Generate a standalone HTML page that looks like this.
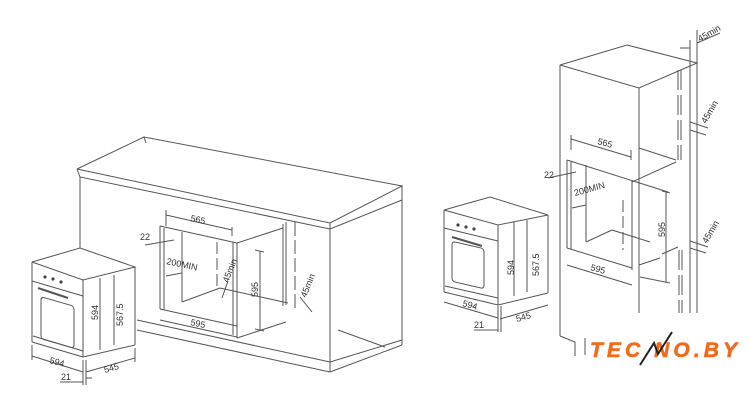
<!DOCTYPE html>
<html><head><meta charset="utf-8"><style>
html,body{margin:0;padding:0;background:#fff;}
svg{display:block}
text{font-family:"Liberation Sans",sans-serif;fill:#333;font-size:9px}
</style></head><body>
<svg width="749" height="412" viewBox="0 0 749 412" xmlns="http://www.w3.org/2000/svg">
<g stroke="#555" stroke-width="1" fill="none">
<!-- LEFT CABINET -->
<polyline points="77,169 144,137 402,186 330,223 77,169"/>
<polyline points="77,169 80,177 330,229 402,200 402,186"/>
<line x1="330" y1="223" x2="330" y2="229"/>
<line x1="144" y1="137" x2="146" y2="143"/>
<line x1="80" y1="177" x2="80" y2="248"/>
<line x1="330" y1="229" x2="330" y2="372"/>
<line x1="402" y1="200" x2="402" y2="345"/>
<line x1="330" y1="372" x2="402" y2="345"/>
<line x1="137" y1="320" x2="330" y2="362"/>
<line x1="137" y1="330" x2="330" y2="372"/>
<line x1="330" y1="362" x2="402" y2="340"/>
<line x1="338" y1="330" x2="385" y2="347"/>
<!-- niche left -->
<line x1="160" y1="226" x2="160" y2="309"/>
<line x1="164" y1="228" x2="164" y2="310"/>
<line x1="160" y1="309" x2="237" y2="326"/>
<line x1="160" y1="226" x2="237" y2="243"/>
<line x1="182" y1="232" x2="182" y2="302"/>
<line x1="182" y1="302" x2="220" y2="288"/>
<line x1="220" y1="288" x2="288" y2="303"/>
<line x1="237" y1="243" x2="237" y2="338"/>
<line x1="233" y1="242" x2="233" y2="335"/>
<line x1="237" y1="243" x2="283" y2="228"/>
<line x1="283" y1="224" x2="283" y2="306"/>
<line x1="286" y1="222" x2="286" y2="305"/>
<line x1="237" y1="338" x2="286" y2="322"/>
<line x1="295" y1="222" x2="295" y2="312" stroke-dasharray="14,4"/>
<line x1="217" y1="242" x2="217" y2="290" stroke-dasharray="12,4"/>
<!-- dims left niche -->
<line x1="166" y1="215" x2="232" y2="230"/>
<line x1="166" y1="210" x2="166" y2="226"/>
<line x1="232" y1="227" x2="232" y2="236"/>
<line x1="160" y1="320" x2="237" y2="337"/>
<line x1="260" y1="251" x2="260" y2="330"/>
<line x1="255" y1="250" x2="264" y2="252"/>
<line x1="255" y1="329" x2="264" y2="331"/>
<line x1="145" y1="245" x2="174" y2="240"/>
<line x1="166" y1="276" x2="182" y2="273"/>
<line x1="228" y1="281" x2="222" y2="298"/>
<line x1="300" y1="297" x2="312" y2="312"/>
<!-- left oven -->
<polyline points="32,262 80,248 135,267 83,280 32,262"/>
<line x1="32" y1="262" x2="32" y2="342"/>
<line x1="83" y1="280" x2="83" y2="357"/>
<line x1="135" y1="267" x2="135" y2="345"/>
<line x1="32" y1="342" x2="83" y2="357"/>
<line x1="83" y1="357" x2="135" y2="345"/>
<line x1="32" y1="281" x2="83" y2="296"/>
<line x1="33" y1="336" x2="83" y2="351"/>
<rect x="41" y="297" width="33" height="42" rx="3" transform="skewY(16) translate(0,-12)"/>
<line x1="38" y1="288" x2="68" y2="298" stroke-width="2"/>
<line x1="100" y1="278" x2="100" y2="350"/>
<line x1="114" y1="275" x2="114" y2="345"/>
<line x1="32" y1="356" x2="83" y2="372"/>
<line x1="86" y1="372" x2="135" y2="358"/>
<line x1="60" y1="382" x2="83" y2="382"/>
<line x1="86" y1="378" x2="92" y2="378"/>
<line x1="32" y1="345" x2="32" y2="360"/>
<line x1="83" y1="360" x2="83" y2="385"/>
<line x1="86" y1="360" x2="86" y2="385"/>
<line x1="135" y1="348" x2="135" y2="362"/>
<!-- RIGHT TALL CABINET -->
<polyline points="560,65 627,45 697,63 639,88 560,65"/>
<line x1="560" y1="65" x2="560" y2="336"/>
<polyline points="560,336 575,342 575,356"/>
<line x1="585" y1="338" x2="585" y2="355"/>
<line x1="639" y1="88" x2="639" y2="313"/>
<line x1="690" y1="40" x2="690" y2="313"/>
<line x1="697" y1="30" x2="697" y2="313"/>
<line x1="678" y1="70" x2="678" y2="160" stroke-dasharray="20,5"/>
<line x1="681" y1="70" x2="681" y2="160" stroke-dasharray="20,5"/>
<line x1="679" y1="250" x2="679" y2="313" stroke-dasharray="20,5"/>
<line x1="682" y1="250" x2="682" y2="313" stroke-dasharray="20,5"/>
<line x1="639" y1="148" x2="676" y2="160"/>
<line x1="632" y1="182" x2="676" y2="162"/>
<line x1="567" y1="160" x2="567" y2="248"/>
<line x1="571" y1="161" x2="571" y2="249"/>
<line x1="567" y1="160" x2="668" y2="192"/>
<line x1="567" y1="248" x2="632" y2="268"/>
<line x1="586" y1="165" x2="586" y2="242"/>
<line x1="586" y1="242" x2="612" y2="230"/>
<line x1="612" y1="230" x2="650" y2="242"/>
<line x1="632" y1="181" x2="632" y2="270"/>
<line x1="623" y1="200" x2="623" y2="250" stroke-dasharray="12,4"/>
<line x1="639" y1="265" x2="660" y2="258"/>
<line x1="662" y1="254" x2="678" y2="247"/>
<!-- right dims -->
<line x1="571" y1="139" x2="631" y2="157"/>
<line x1="571" y1="135" x2="571" y2="150"/>
<line x1="631" y1="150" x2="631" y2="160"/>
<line x1="567" y1="265" x2="632" y2="285"/>
<line x1="666" y1="192" x2="666" y2="282"/>
<line x1="662" y1="191" x2="670" y2="193"/>
<line x1="640" y1="277" x2="670" y2="283"/>
<line x1="548" y1="178" x2="576" y2="172"/>
<line x1="572" y1="208" x2="586" y2="205"/>
<line x1="690" y1="122" x2="708" y2="128"/>
<line x1="690" y1="130" x2="706" y2="135"/>
<line x1="690" y1="241" x2="708" y2="247"/>
<line x1="690" y1="248" x2="706" y2="253"/>
<line x1="697" y1="43" x2="720" y2="33"/>
<line x1="680" y1="48" x2="690" y2="48"/>
<!-- right oven -->
<polyline points="444,210 490,197 548,215 498,225 444,210"/>
<line x1="444" y1="210" x2="444" y2="292"/>
<line x1="498" y1="225" x2="498" y2="305"/>
<line x1="548" y1="215" x2="548" y2="293"/>
<line x1="444" y1="292" x2="498" y2="305"/>
<line x1="498" y1="305" x2="548" y2="293"/>
<line x1="444" y1="228" x2="498" y2="241"/>
<line x1="445" y1="286" x2="498" y2="298"/>
<rect x="452" y="241" width="32" height="40" rx="3" transform="skewY(13) translate(0,-104)"/>
<line x1="452" y1="237" x2="482" y2="246" stroke-width="2"/>
<line x1="514" y1="222" x2="514" y2="296"/>
<line x1="527" y1="220" x2="527" y2="292"/>
<line x1="444" y1="302" x2="498" y2="318"/>
<line x1="500" y1="319" x2="548" y2="305"/>
<line x1="474" y1="330" x2="498" y2="330"/>
<line x1="498" y1="306" x2="498" y2="332"/>
<line x1="501" y1="306" x2="501" y2="332"/>
</g>
<g fill="#444">
<circle cx="45" cy="277" r="1.6"/><circle cx="53" cy="279" r="1.6"/><circle cx="61" cy="282" r="1.6"/>
<circle cx="458" cy="225" r="1.6"/><circle cx="466" cy="227" r="1.6"/><circle cx="474" cy="229" r="1.6"/>
</g>
<!-- labels left -->
<text x="190" y="221" transform="rotate(12 190 221)">565</text>
<text x="140" y="240">22</text>
<text x="166" y="264" transform="rotate(12 166 264)">200MIN</text>
<text x="228" y="283" transform="rotate(-68 228 283)">45min</text>
<text x="258" y="297" transform="rotate(-90 258 297)">595</text>
<text x="190" y="325" transform="rotate(12 190 325)">595</text>
<text x="306" y="298" transform="rotate(-68 306 298)">45min</text>
<g style="font-size:11px">
<text x="98" y="320" transform="rotate(-90 98 320)">594</text>
<text x="123" y="326" transform="rotate(-90 123 326)">567.5</text>
<text x="49" y="363" transform="rotate(15 49 363)">594</text>
<text x="105" y="373" transform="rotate(-16 105 373)">545</text>
<text x="61" y="380">21</text>
<text x="514" y="275" transform="rotate(-90 514 275)">594</text>
<text x="539" y="276" transform="rotate(-90 539 276)">567.5</text>
<text x="462" y="306" transform="rotate(15 462 306)">594</text>
<text x="517" y="322" transform="rotate(-16 517 322)">545</text>
<text x="474" y="328">21</text>
</g>
<!-- labels right -->
<text x="597" y="144" transform="rotate(15 597 144)">565</text>
<text x="544" y="178">22</text>
<text x="575" y="196" transform="rotate(-15 575 196)">200MIN</text>
<text x="665" y="237" transform="rotate(-90 665 237)">595</text>
<text x="590" y="270" transform="rotate(15 590 270)">595</text>
<text x="706" y="124" transform="rotate(-60 706 124)">45min</text>
<text x="707" y="244" transform="rotate(-60 707 244)">45min</text>
<text x="700" y="42" transform="rotate(-30 700 42)">45min</text>
<!-- logo -->
<text x="590" y="357" textLength="147" lengthAdjust="spacing" style="font-size:21px;font-weight:900;font-style:italic;fill:#f26a1b;stroke:#f26a1b;stroke-width:0.6">TEC&#160;NO.BY</text>
<polyline points="640,365 654,343 658,354 672,332" stroke="#222" stroke-width="2" fill="none"/>
</svg>
</body></html>
